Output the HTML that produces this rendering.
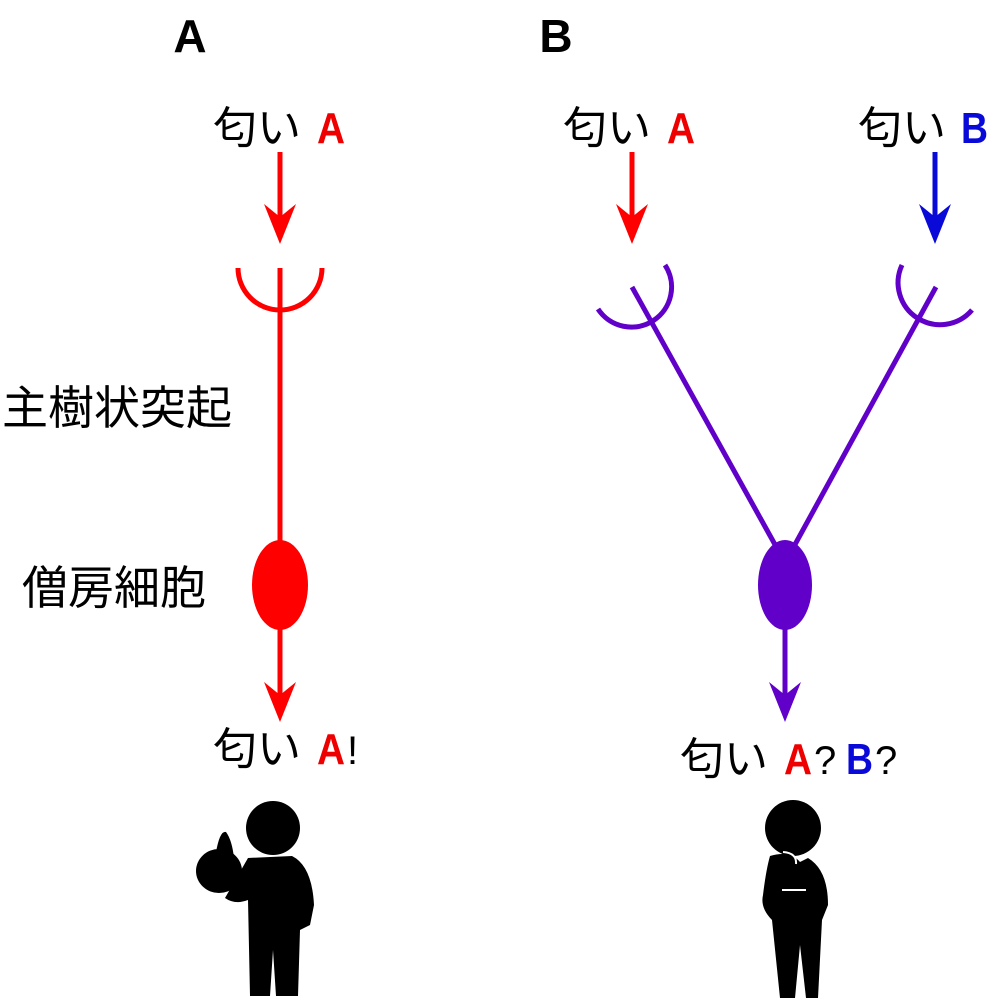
<!DOCTYPE html>
<html><head><meta charset="utf-8"><style>
html,body{margin:0;padding:0;background:#fff;}
svg{display:block;}
text{font-family:"Liberation Sans","Noto Sans CJK JP",sans-serif;}
.b{font-weight:bold;font-size:44px;}
</style></head><body>
<svg width="991" height="1000" viewBox="0 0 991 1000" xmlns="http://www.w3.org/2000/svg">
<defs>
<path id="ah" d="M-16,-38 L0,-25 L16,-38 L0,2 Z"/>
</defs>
<text x="190" y="52" font-size="46" font-weight="bold" text-anchor="middle">A</text>
<text x="556" y="52" font-size="46" font-weight="bold" text-anchor="middle">B</text>

<text x="213" y="143" font-size="44">匂い</text>
<text x="317" y="143" fill="#e00" class="b" textLength="28" lengthAdjust="spacingAndGlyphs">A</text>
<text x="563" y="143" font-size="44">匂い</text>
<text x="667" y="143" fill="#e00" class="b" textLength="28" lengthAdjust="spacingAndGlyphs">A</text>
<text x="858" y="143" font-size="44">匂い</text>
<text x="961" y="143" fill="#0a0ad8" class="b" textLength="27" lengthAdjust="spacingAndGlyphs">B</text>

<text x="2" y="424" font-size="46">主樹状突起</text>
<text x="22" y="604" font-size="46">僧房細胞</text>

<text x="213" y="764" font-size="44">匂い</text>
<text x="317" y="764" fill="#e00" class="b" textLength="28" lengthAdjust="spacingAndGlyphs">A</text>
<text x="347" y="764" font-size="40">!</text>
<text x="680" y="774" font-size="44">匂い</text>
<text x="784" y="774" fill="#e00" class="b" textLength="28" lengthAdjust="spacingAndGlyphs">A</text>
<text x="814" y="774" font-size="40">?</text>
<text x="846" y="774" fill="#0a0ad8" class="b" textLength="27" lengthAdjust="spacingAndGlyphs">B</text>
<text x="875" y="774" font-size="40">?</text>

<!-- A -->
<g stroke="#f00" stroke-width="5" fill="none">
<line x1="280" y1="152" x2="280" y2="225"/>
<path d="M238,268 A42,42 0 0 0 322,268"/>
<line x1="280" y1="268" x2="280" y2="545"/>
<line x1="280" y1="625" x2="280" y2="705"/>
</g>
<use href="#ah" x="280" y="242" fill="#f00"/>
<use href="#ah" x="280" y="720" fill="#f00"/>
<ellipse cx="280" cy="585" rx="28" ry="45" fill="#f00"/>

<!-- B -->
<g stroke="#f00" stroke-width="5" fill="none">
<line x1="632" y1="152" x2="632" y2="225"/>
</g>
<use href="#ah" x="632" y="242" fill="#f00"/>
<g stroke="#0a0ad8" stroke-width="5" fill="none">
<line x1="935" y1="152" x2="935" y2="225"/>
</g>
<use href="#ah" x="935" y="242" fill="#0a0ad8"/>
<g stroke="#6000c8" stroke-width="5" fill="none">
<path d="M598,309 A40,40 0 0 0 665,265"/>
<line x1="632" y1="287" x2="778" y2="550"/>
<path d="M902,265 A42,42 0 0 0 972,310"/>
<line x1="936" y1="287" x2="792" y2="550"/>
<line x1="785" y1="625" x2="785" y2="705"/>
</g>
<use href="#ah" x="785" y="720" fill="#6000c8"/>
<ellipse cx="785" cy="585" rx="27" ry="45" fill="#6000c8"/>

<!-- figure A -->
<g fill="#000">
<circle cx="273" cy="828" r="27"/>
<path d="M248,858 L292,856 Q312,866 314,905 L310,925 L300,930 L298,996 L276,996 L273,950 L270,996 L250,996 L248,900 Q235,905 225,898 Z"/>
<ellipse cx="219" cy="871" rx="23" ry="22"/>
<path d="M216,852 Q220,830 226,832 Q232,840 234,858 Z"/>
<ellipse cx="297" cy="918" rx="12" ry="9"/>
</g>
<!-- figure B -->
<g fill="#000">
<circle cx="793" cy="828" r="28"/>
<path d="M770,856 Q790,850 800,862 L808,858 Q828,870 828,905 L822,920 L818,998 L806,998 L800,945 L795,998 L780,998 L772,920 Q760,908 763,895 Q766,870 770,856 Z"/>
</g>
<path d="M783,852 Q797,853 796,864 M782,890 L806,890" stroke="#fff" stroke-width="2" fill="none"/>
</svg>
</body></html>
